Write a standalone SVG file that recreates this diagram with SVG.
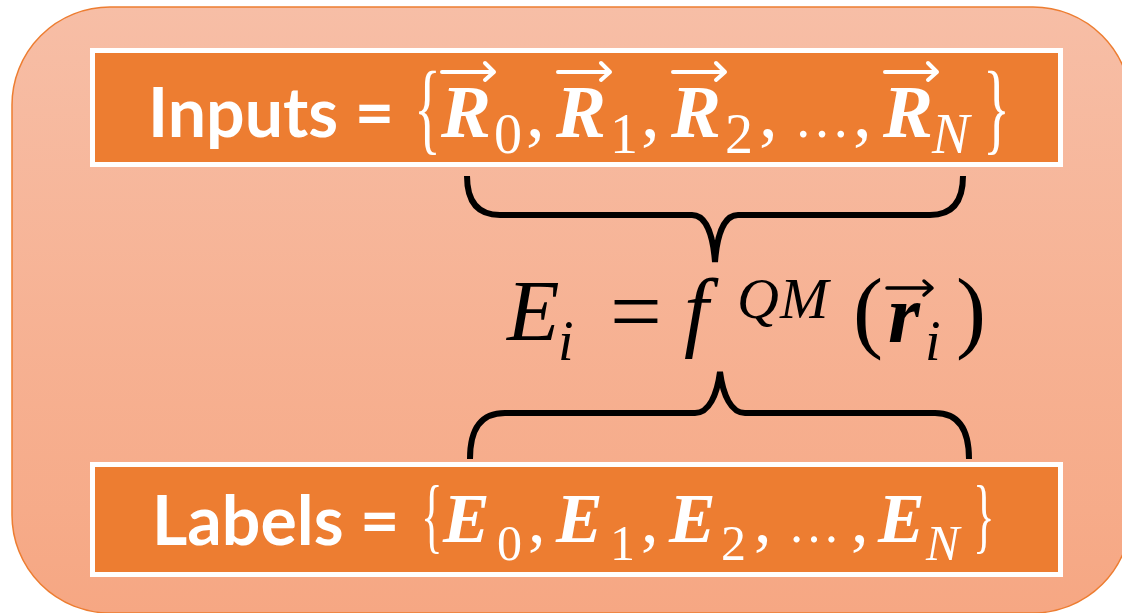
<svg xmlns="http://www.w3.org/2000/svg" width="1122" height="613" viewBox="0 0 1122 613">
<defs>
<linearGradient id="bg" x1="0" y1="0" x2="0" y2="1">
<stop offset="0" stop-color="#F7BEA6"/>
<stop offset="1" stop-color="#F6A783"/>
</linearGradient>
<style>
.box{fill:#ED7D31;stroke:#FFFFFF;stroke-width:5}
.lbl{font-family:Lato,"Open Sans",sans-serif;font-weight:bold;font-size:68px;fill:#FFFFFF}
.m{font-family:"Liberation Serif","Times New Roman",serif;fill:#FFFFFF}
.mk{font-family:"Liberation Serif","Times New Roman",serif;fill:#000000}
.bi{font-weight:bold;font-style:italic}
.it{font-style:italic}
.arw{fill:none;stroke:#FFFFFF;stroke-width:4;stroke-linecap:round;stroke-linejoin:round}
.arwk{fill:none;stroke:#000000;stroke-width:3.5;stroke-linecap:round;stroke-linejoin:round}
.brace{fill:none;stroke:#000000;stroke-width:6;stroke-linecap:butt}
</style>
</defs>
<rect id="background" x="12" y="7" width="1119" height="606" rx="98" ry="98" fill="url(#bg)" stroke="#ED7D31" stroke-width="1.5"/>

<g id="inputs">
<rect class="box" x="92.5" y="50.5" width="968" height="114"/>
<text class="lbl" x="148" y="137">Inputs =</text>
<text class="m" font-size="102" transform="translate(414,141) scale(0.55,1)">{</text>
<text class="m bi" font-size="75" x="441" y="137">R</text>
<path class="arw" d="M442,72 L493,72 M485,63 L494,72 L485,80"/>
<text class="m" font-size="56" x="494" y="153">0</text>
<text class="m" font-size="75" x="526" y="137">,</text>
<text class="m bi" font-size="75" x="556" y="137">R</text>
<path class="arw" d="M558,72 L609,72 M601,63 L610,72 L601,80"/>
<text class="m" font-size="56" x="610" y="153">1</text>
<text class="m" font-size="75" x="641" y="137">,</text>
<text class="m bi" font-size="75" x="671" y="137">R</text>
<path class="arw" d="M673,72 L724,72 M716,63 L725,72 L716,80"/>
<text class="m" font-size="56" x="725" y="153">2</text>
<text class="m" font-size="75" x="759" y="137">,</text>
<text class="m" font-size="56" x="794" y="137">…</text>
<text class="m" font-size="75" x="853" y="137">,</text>
<text class="m bi" font-size="75" x="883" y="137">R</text>
<path class="arw" d="M885,72 L936,72 M928,63 L937,72 L928,80"/>
<text class="m it" font-size="56" x="932" y="153">N</text>
<text class="m" font-size="102" transform="translate(983,141) scale(0.55,1)">}</text>
</g>

<g id="formula">
<text class="mk it" font-size="86" x="507" y="340">E</text>
<text class="mk it" font-size="56" x="558" y="360">i</text>
<text class="mk" font-size="92" x="610" y="342">=</text>
<text class="mk it" font-size="88" x="684" y="340">f</text>
<text class="mk it" font-size="58" x="737" y="318" letter-spacing="1">QM</text>
<text class="mk" font-size="90" x="853" y="341">(</text>
<text class="mk bi" font-size="82" x="888" y="342">r</text>
<path class="arwk" d="M887,288 L931,288 M924,281 L932,288 L924,295"/>
<text class="mk it" font-size="56" x="925" y="360">i</text>
<text class="mk" font-size="90" x="956" y="341">)</text>
</g>

<g id="labels">
<rect class="box" x="92.5" y="464.5" width="968" height="110"/>
<text class="lbl" x="152" y="545">Labels =</text>
<text class="m" font-size="82" transform="translate(421,543) scale(0.55,1)">{</text>
<text class="m bi" font-size="70" x="443" y="542">E</text>
<text class="m" font-size="50" x="497" y="560">0</text>
<text class="m" font-size="70" x="528" y="542">,</text>
<text class="m bi" font-size="70" x="556" y="542">E</text>
<text class="m" font-size="50" x="610" y="560">1</text>
<text class="m" font-size="70" x="641" y="542">,</text>
<text class="m bi" font-size="70" x="669" y="542">E</text>
<text class="m" font-size="50" x="721" y="560">2</text>
<text class="m" font-size="70" x="754" y="542">,</text>
<text class="m" font-size="52" x="788" y="542">…</text>
<text class="m" font-size="70" x="851" y="542">,</text>
<text class="m bi" font-size="70" x="878" y="542">E</text>
<text class="m it" font-size="50" x="926" y="560">N</text>
<text class="m" font-size="82" transform="translate(973,543) scale(0.55,1)">}</text>
</g>

<g id="connectors">
<path class="brace" d="M467,176 C467,202 478,215 500,215 L692,215 C706,215 713,235 715,262 C717,235 724,215 738,215 L930,215 C952,215 963,202 963,176"/>
<path class="brace" d="M470,459 C470,430 480,413 505,413 L695,413 C709,413 717,395 720,372 C723,395 731,413 745,413 L935,413 C959,413 969,430 969,459"/>
</g>
</svg>
